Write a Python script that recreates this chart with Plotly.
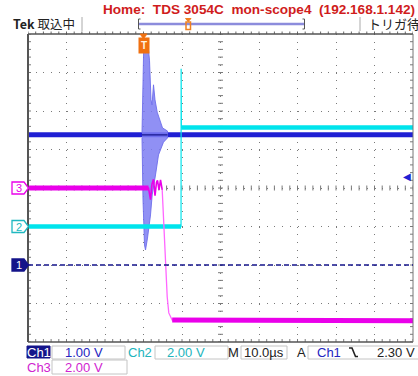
import plotly.graph_objects as go

# ---------------- data (time in µs relative to trigger, voltages in V) ----------------
T_RANGE = [-30, 70]                     # 10 µs/div, 10 divisions
Y_DIVS = [-4, 4]
CH1_SCALE, CH2_SCALE, CH3_SCALE = 1.0, 2.0, 2.0      # V/div
CH1_POS, CH2_POS, CH3_POS = -2.0, -1.0, 0.0           # ground marker position (div)
TRIG_LEVEL = 2.30                                     # V on Ch1
TRIG_TIME = 0.0

ch1_t = [-30, 70]
ch1_v = [3.38, 3.38]
burst_t_top = [-0.39, -0.08, 0.08, 1.04, 1.56, 1.95, 2.21, 2.60, 2.99, 3.56, 4.16, 4.94, 6.23]
burst_v_top = [3.43, 4.81, 5.79, 5.84, 5.32, 4.29, 4.16, 4.68, 4.29, 3.97, 3.77, 3.56, 3.48]
burst_t_bot = [-0.39, -0.13, 0.26, 0.52, 1.04, 1.30, 1.82, 2.26, 3.12, 3.90, 5.19, 6.23]
burst_v_bot = [3.30, 1.69, 0.52, 0.39, 0.70, 0.78, 1.30, 1.82, 2.34, 2.86, 3.19, 3.30]

ch2_t = [-30, 9.75, 9.78, 9.84, 70]
ch2_v = [0.0, 0.0, 8.2, 5.14, 5.14]

ch3_t = [-30, 1.3, 1.82, 2.2, 2.6, 2.99, 3.38, 3.64, 4.03, 4.42, 4.86, 5.71, 6.16, 6.57, 7.45, 70]
ch3_v = [0.0, 0.0, -0.6, 0.2, 0.45, -0.4, 0.3, 0.4, -0.1, 0.42, -0.1, -4.26, -5.66, -6.49, -6.86, -6.9]

HEADER = "Home:  TDS 3054C  mon-scope4  (192.168.1.142)"
STATUS_ROW1 = ["Ch1", "1.00 V", "Ch2", "2.00 V", "M", "10.0µs", "A", "Ch1", "2.30 V"]
STATUS_ROW2 = ["Ch3", "2.00 V"]

# ---------------- colours ----------------
C1 = "#2020d4"
C1_BURST = "rgba(125,125,242,0.85)"
C1_DARK = "#14148a"
C2 = "#00e4ec"
C3 = "#ea00ea"
C3_THIN = "#ff66ff"

W, H = 418, 376
L, R, T, B = 28, 5, 34, 34
PW, PH = W - L - R, H - T - B


def px(x):
    return (x - L) / PW


def py(y):
    return (H - B - y) / PH


def div(v, scale, pos):
    return [None if a is None else a / scale + pos for a in v]


fig = go.Figure()

# Ch1 baseline and burst
fig.add_trace(go.Scatter(x=ch1_t, y=div(ch1_v, CH1_SCALE, CH1_POS), mode="lines",
                         line=dict(color=C1, width=5), hoverinfo="skip"))
poly_t = burst_t_top + burst_t_bot[::-1]
poly_v = burst_v_top + burst_v_bot[::-1]
fig.add_trace(go.Scatter(x=poly_t, y=div(poly_v, CH1_SCALE, CH1_POS), mode="lines",
                         fill="toself", fillcolor=C1_BURST,
                         line=dict(color="rgba(110,110,235,0.9)", width=1), hoverinfo="skip"))
fig.add_trace(go.Scatter(x=[burst_t_top[0], burst_t_top[-1]], y=div(ch1_v, CH1_SCALE, CH1_POS), mode="lines",
                         line=dict(color=C1_DARK, width=1.2), hoverinfo="skip"))

# Ch2
fig.add_trace(go.Scatter(x=ch2_t, y=div(ch2_v, CH2_SCALE, CH2_POS), mode="lines",
                         line=dict(color=C2, width=1.2), hoverinfo="skip"))
fig.add_trace(go.Scatter(x=[ch2_t[0], ch2_t[1], None, ch2_t[3], ch2_t[4]],
                         y=div([ch2_v[0], ch2_v[1], None, ch2_v[3], ch2_v[4]], CH2_SCALE, CH2_POS),
                         mode="lines", line=dict(color=C2, width=4.5), hoverinfo="skip"))

# Ch3
fig.add_trace(go.Scatter(x=ch3_t[10:], y=div(ch3_v[10:], CH3_SCALE, CH3_POS), mode="lines",
                         line=dict(color=C3_THIN, width=1.3), hoverinfo="skip"))
fig.add_trace(go.Scatter(x=ch3_t[:11], y=div(ch3_v[:11], CH3_SCALE, CH3_POS), mode="lines",
                         line=dict(color=C3, width=1.6), hoverinfo="skip"))
fig.add_trace(go.Scatter(x=[ch3_t[0], ch3_t[1], None, ch3_t[-2], ch3_t[-1]],
                         y=div([ch3_v[0], ch3_v[1], None, ch3_v[-2], ch3_v[-1]], CH3_SCALE, CH3_POS),
                         mode="lines", line=dict(color=C3, width=5), hoverinfo="skip"))

shapes = []
ann = []
GRAT = "#7a7a7a"
tick_x = (T_RANGE[1] - T_RANGE[0]) / 50
tick_y = (Y_DIVS[1] - Y_DIVS[0]) / 40
tl_px = 2.5

# center-line ticks
for k in range(51):
    x = T_RANGE[0] + k * tick_x
    shapes.append(dict(type="line", xref="x", yref="y", x0=x, x1=x,
                       y0=-tl_px / 38.5, y1=tl_px / 38.5, line=dict(color=GRAT, width=1), layer="below"))
    shapes.append(dict(type="line", xref="x", yref="paper", x0=x, x1=x,
                       y0=0, y1=3 / PH, line=dict(color=GRAT, width=1), layer="below"))
    shapes.append(dict(type="line", xref="x", yref="paper", x0=x, x1=x,
                       y0=1, y1=1 + 2.5 / PH, line=dict(color="#666", width=1)))
xc = (T_RANGE[0] + T_RANGE[1]) / 2
for k in range(41):
    y = Y_DIVS[0] + k * tick_y
    shapes.append(dict(type="line", xref="x", yref="y", y0=y, y1=y,
                       x0=xc - tl_px / 3.85, x1=xc + tl_px / 3.85, line=dict(color=GRAT, width=1), layer="below"))
    shapes.append(dict(type="line", xref="paper", yref="y", y0=y, y1=y,
                       x0=0, x1=3 / PW, line=dict(color=GRAT, width=1), layer="below"))
    shapes.append(dict(type="line", xref="paper", yref="y", y0=y, y1=y,
                       x0=1 - 3 / PW, x1=1, line=dict(color=GRAT, width=1), layer="below"))

# border
shapes.append(dict(type="line", xref="paper", yref="paper", x0=0, x1=1, y0=1, y1=1,
                   line=dict(color="#555", width=1.5)))
shapes.append(dict(type="line", xref="paper", yref="paper", x0=0, x1=1, y0=0, y1=0,
                   line=dict(color="#555", width=1.5)))
shapes.append(dict(type="line", xref="paper", yref="paper", x0=0, x1=0, y0=0, y1=1,
                   line=dict(color="#555", width=2)))
shapes.append(dict(type="line", xref="paper", yref="paper", x0=1, x1=1, y0=0, y1=1,
                   line=dict(color="#777", width=1)))

# Ch1 ground dashed line
shapes.append(dict(type="line", xref="paper", yref="y", x0=0, x1=1, y0=CH1_POS, y1=CH1_POS,
                   line=dict(color=C1_DARK, width=1.5, dash="5px,3px")))


def marker(pos, color, label, filled):
    yc = (pos - Y_DIVS[0]) / (Y_DIVS[1] - Y_DIVS[0])
    hh = 6 / PH
    x0, x1, x2 = px(12), px(24), px(28.5)
    path = f"M {x0},{yc-hh} L {x1},{yc-hh} L {x2},{yc} L {x1},{yc+hh} L {x0},{yc+hh} Z"
    shapes.append(dict(type="path", xref="paper", yref="paper", path=path,
                       fillcolor=color if filled else "white", line=dict(color=color, width=1.3)))
    ann.append(dict(xref="paper", yref="paper", x=px(18.5), y=yc, text=label, showarrow=False,
                    font=dict(family="Liberation Sans", size=11, color="white" if filled else color),
                    xanchor="center", yanchor="middle"))


marker(CH3_POS, C3, "3", False)
marker(CH2_POS, "#20b8c0", "2", False)
marker(CH1_POS, C1_DARK, "1", True)

# trigger level arrow (right)
ann.append(dict(xref="paper", yref="y", x=1, y=TRIG_LEVEL / CH1_SCALE + CH1_POS, text="◀",
                showarrow=False, xanchor="right", yanchor="middle",
                font=dict(family="DejaVu Sans", size=10, color=C1)))

# trigger position marker (top)
shapes.append(dict(type="path", xref="x", yref="paper",
                   path=f"M {TRIG_TIME - 0.9},1 L {TRIG_TIME + 0.9},1 L {TRIG_TIME},{1 - 4.5 / PH} Z",
                   fillcolor="#f07010", line=dict(color="#f07010", width=1)))
ann.append(dict(xref="x", yref="paper", x=TRIG_TIME, y=py(45.5), text="<b>T</b>", showarrow=False,
                xanchor="center", yanchor="middle", bgcolor="#f07010", borderpad=2,
                font=dict(family="Liberation Sans", size=10, color="#fff3e0")))

# header
ann.append(dict(xref="paper", yref="paper", x=px(101), y=py(9.5), text=f"<b>{HEADER}</b>", showarrow=False,
                xanchor="left", yanchor="middle", font=dict(family="Liberation Sans", size=13.6, color="#d01c1c")))
ann.append(dict(xref="paper", yref="paper", x=px(11), y=py(24), text="<b>Tek</b> 取込中", showarrow=False,
                xanchor="left", yanchor="middle", font=dict(family="Noto Sans CJK JP", size=12.5, color="#222")))
ann.append(dict(xref="paper", yref="paper", x=px(366), y=py(24), text="トリガ待ち", showarrow=False,
                xanchor="left", yanchor="middle", font=dict(family="Noto Sans CJK JP", size=13, color="#222")))
for sx in (82, 360):
    shapes.append(dict(type="line", xref="paper", yref="paper", x0=px(sx), x1=px(sx), y0=py(17), y1=py(31),
                       line=dict(color="#aaa", width=1)))
# record bar
shapes.append(dict(type="line", xref="paper", yref="paper", x0=px(139), x1=px(304), y0=py(24), y1=py(24),
                   line=dict(color="#8c8cdc", width=2.5)))
for bx, d in ((138.5, 1), (304.5, -1)):
    shapes.append(dict(type="path", xref="paper", yref="paper",
                       path=f"M {px(bx + 2*d)},{py(19)} L {px(bx)},{py(19)} L {px(bx)},{py(29)} L {px(bx + 2*d)},{py(29)}",
                       line=dict(color="#555", width=1)))
shapes.append(dict(type="path", xref="paper", yref="paper",
                   path=f"M {px(185.5)},{py(18.5)} L {px(191)},{py(18.5)} L {px(188.2)},{py(21.5)} Z",
                   fillcolor="#f08020", line=dict(color="#f08020", width=1)))
shapes.append(dict(type="rect", xref="paper", yref="paper", x0=px(186), x1=px(190.5), y0=py(29.5), y1=py(22),
                   line=dict(color="#f08020", width=1.5)))

# status boxes
for (x0, x1, y0, y1) in ((52, 125, 346, 359), (155, 228, 346, 359), (241, 287, 346, 359),
                         (308, 420, 346, 359), (52, 127, 360, 374)):
    shapes.append(dict(type="rect", xref="paper", yref="paper", x0=px(x0), x1=px(x1), y0=py(y1), y1=py(y0),
                       line=dict(color="#c4c4c4", width=1)))
shapes.append(dict(type="rect", xref="paper", yref="paper", x0=px(27), x1=px(50), y0=py(358), y1=py(346),
                   fillcolor=C1_DARK, line=dict(color=C1_DARK, width=1)))

S1_X = [38.5, 84, 140, 186, 234, 264, 301, 329, 396]
S1_C = ["white", "#2424c0", "#22b4bc", "#22b4bc", "#222", "#222", "#222", "#2424c0", "#222"]
for txt, x, c in zip(STATUS_ROW1, S1_X, S1_C):
    ann.append(dict(xref="paper", yref="paper", x=px(x), y=py(352.5), text=txt, showarrow=False,
                    xanchor="center", yanchor="middle",
                    font=dict(family="Liberation Sans", size=13, color=c)))
for txt, x, c in zip(STATUS_ROW2, [38.5, 84], ["#d024d0", "#d024d0"]):
    ann.append(dict(xref="paper", yref="paper", x=px(x), y=py(367), text=txt, showarrow=False,
                    xanchor="center", yanchor="middle",
                    font=dict(family="Liberation Sans", size=13, color=c)))
shapes.append(dict(type="path", xref="paper", yref="paper",
                   path=f"M {px(349)},{py(348)} L {px(352)},{py(348)} L {px(355.5)},{py(356.5)} L {px(358)},{py(356.5)}",
                   line=dict(color="#222", width=1.6)))

fig.update_layout(
    width=W, height=H, margin=dict(l=L, r=R, t=T, b=B, pad=0),
    paper_bgcolor="white", plot_bgcolor="white", showlegend=False,
    shapes=shapes, annotations=ann,
    xaxis=dict(range=T_RANGE, dtick=10, tick0=T_RANGE[0], showticklabels=False, ticks="",
               showgrid=True, gridcolor=GRAT, gridwidth=1, griddash="1px,6.7px",
               zeroline=False, showline=False, fixedrange=True),
    yaxis=dict(range=Y_DIVS, dtick=1, tick0=0, showticklabels=False, ticks="",
               showgrid=True, gridcolor=GRAT, gridwidth=1, griddash="1px,6.7px",
               zeroline=False, showline=False, fixedrange=True),
)
fig.write_html("out.html", config={"displayModeBar": False},
               post_script="document.body.style.margin='0px';document.body.style.overflow='hidden';")
